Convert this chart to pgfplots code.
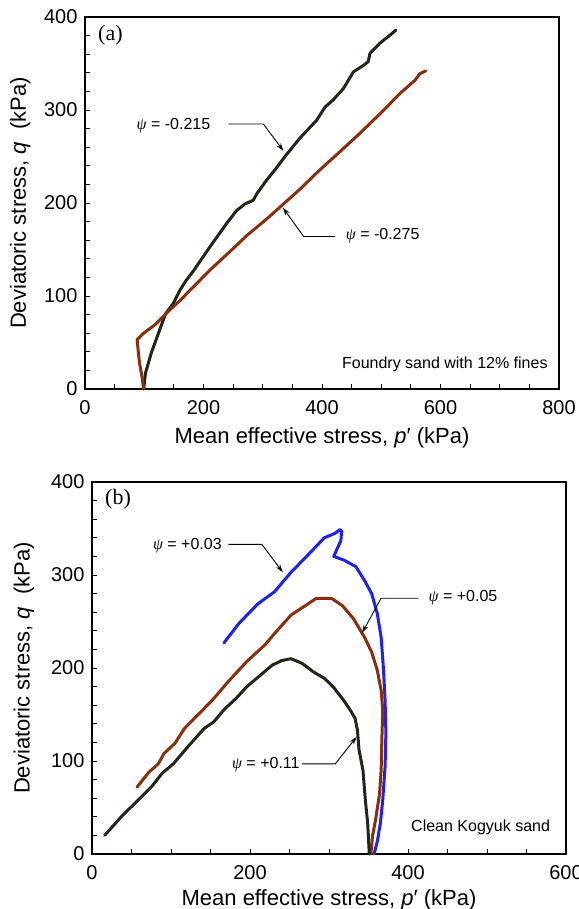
\documentclass[border=0pt]{standalone}
\usepackage{fontspec}
\setmainfont{Liberation Sans}
\newfontfamily\seriffont{Liberation Serif}
\usepackage{pgfplots}
\pgfplotsset{compat=1.18}
\usetikzlibrary{arrows.meta}

\definecolor{dgreen}{HTML}{1E2814}
\definecolor{rust}{HTML}{8A2E10}
\definecolor{vblue}{HTML}{2020F5}

\newcommand{\psisym}{{\seriffont\itshape ψ}}

\tikzset{
  curve/.style={line width=3pt, line join=round, line cap=round},
  ann/.style={font=\fontsize{16}{19}\selectfont, inner sep=0pt},
  pointer/.style={black, line width=0.9pt, -{Stealth[length=8pt, width=5pt]}},
}
\pgfplotsset{
  panel/.style={
    scale only axis, width=474pt, height=372pt,
    tick pos=left, tick align=inside,
    major tick length=5pt, minor tick length=5pt,
    every tick/.style={black, line width=0.9pt},
    axis line style={line width=1.2pt},
    ymin=0, ymax=400, ytick={0,100,...,400}, minor y tick num=4,
    minor x tick num=3,
    /pgf/number format/assume math mode=true,
    tick label style={font=\fontsize{20}{24}\selectfont},
    yticklabel style={xshift=-4pt},
    xticklabel style={yshift=-8pt},
    label style={font=\fontsize{22}{26}\selectfont},
    ylabel={Deviatoric stress, \textit{q}\ \ (kPa)},
    xlabel={Mean effective stress, \textit{p}′ (kPa)},
    clip=false,
  },
}

\begin{document}
\begin{tikzpicture}
% (a) foundry sand
\begin{axis}[panel, at={(85pt,-389pt)}, anchor=south west,
  xmin=0, xmax=800, xtick={0,200,...,800},
  ylabel style={at={(axis description cs:-0.137,0.5)}, anchor=center},
  xlabel style={at={(axis description cs:0.5,-0.13)}, anchor=center}]
\addplot[curve, dgreen] coordinates {
(99,0) (102,17) (112,39) (124,60) (136,81) (149,92) (160,106) (171,117)
(183,127) (211,153) (239,178) (256,192) (270,199) (284,203) (290,210)
(307,225) (321,236) (340,252) (363,270) (391,289) (405,303) (419,311)
(436,323) (453,341) (470,348) (478,352) (481,361) (498,372) (512,379)
(525,386)
};
\addplot[curve, rust] coordinates {
(99,0) (96,14) (92,28) (89,46) (88,53) (99,60) (118,69) (143,85) (160,95)
(177,106) (211,128) (245,148) (273,165) (307,183) (335,199) (363,215)
(397,236) (430,255) (464,275) (498,296) (532,318) (557,332) (565,339)
(575,342)
};
\node[ann, anchor=west] at (axis cs:87,283) {\psisym\ = -0.215};
\draw[pointer] (axis cs:242,285) -- (axis cs:301,285) -- (axis cs:335,256);
\node[ann, anchor=west] at (axis cs:440,165) {\psisym\ = -0.275};
\draw[pointer] (axis cs:422,164) -- (axis cs:369,164) -- (axis cs:334,195);
\node[ann, anchor=east] at (axis cs:781,26) {Foundry sand with 12\% fines};
\node[inner sep=0pt, anchor=west, font=\seriffont\fontsize{22}{26}\selectfont] at (axis cs:22,380) {(a)};
\end{axis}

% (b) clean Kogyuk sand
\begin{axis}[panel, at={(92pt,-854pt)}, anchor=south west,
  xmin=0, xmax=600, xtick={0,200,...,600},
  ylabel style={at={(axis description cs:-0.1435,0.5)}, anchor=center},
  xlabel style={at={(axis description cs:0.5,-0.123)}, anchor=center}]
\addplot[curve, vblue] coordinates {
(167,227) (186,248) (210,269) (231,282) (252,303) (275,323) (294,340)
(308,345) (314,349) (316,347) (315,337) (306,320) (319,316) (334,309)
(345,294) (354,280) (361,259) (366,233) (369,198) (371,165) (372,130)
(371,94) (368,58) (365,33) (361,13) (357,0)
};
\addplot[curve, rust] coordinates {
(57,72) (72,88) (84,97) (91,108) (105,119) (117,135) (138,153) (154,167)
(172,185) (196,207) (219,225) (233,239) (252,257) (270,267) (284,275)
(303,275) (317,267) (331,253) (345,233) (354,217) (361,198) (366,176)
(368,155) (367,126) (366,90) (364,65) (359,37) (355,19) (353,0)
};
\addplot[curve, dgreen] coordinates {
(16,20) (37,40) (56,56) (75,72) (89,87) (103,97) (121,115) (142,135)
(154,142) (168,156) (182,167) (196,180) (210,190) (228,203) (240,208)
(252,210) (266,205) (280,196) (294,189) (305,180) (317,167) (326,156)
(333,146) (336,133) (338,112) (343,90) (346,58) (349,33) (351,0)
};
\node[ann, anchor=west] at (axis cs:77,332) {\psisym\ = +0.03};
\draw[pointer] (axis cs:172.5,333) -- (axis cs:215,333) -- (axis cs:241.5,303);
\node[ann, anchor=west] at (axis cs:426,276) {\psisym\ = +0.05};
\draw[pointer] (axis cs:413,275) -- (axis cs:366,275) -- (axis cs:342,238);
\node[ann, anchor=east] at (axis cs:263,96) {\psisym\ = +0.11};
\draw[pointer] (axis cs:266,97) -- (axis cs:308,97) -- (axis cs:335,126);
\node[ann, anchor=east] at (axis cs:580,29) {Clean Kogyuk sand};
\node[inner sep=0pt, anchor=west, font=\seriffont\fontsize{22}{26}\selectfont] at (axis cs:16.5,382) {(b)};
\end{axis}
\pgfresetboundingbox
\path[use as bounding box] (0,0) rectangle (578pt,-909pt);
\end{tikzpicture}
\end{document}
